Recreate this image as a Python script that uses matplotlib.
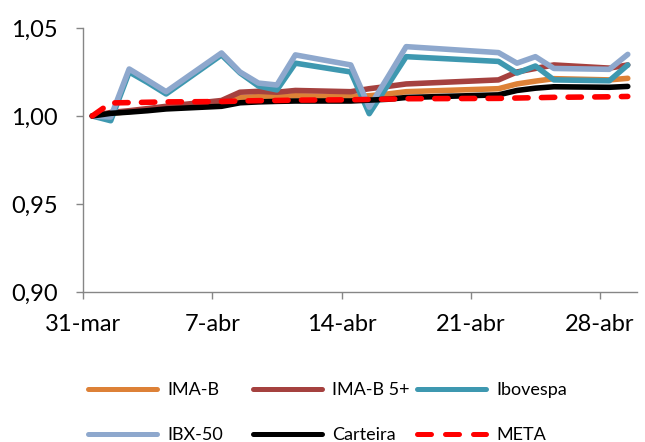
import matplotlib.pyplot as plt
import pandas as pd
from matplotlib.lines import Line2D

# Daily values, 31-mar to 29-abr (trading days only)
dates = ["2014-03-31", "2014-04-01", "2014-04-02", "2014-04-03", "2014-04-04",
         "2014-04-07", "2014-04-08", "2014-04-09", "2014-04-10", "2014-04-11",
         "2014-04-14", "2014-04-15", "2014-04-16", "2014-04-17", "2014-04-22",
         "2014-04-23", "2014-04-24", "2014-04-25", "2014-04-28", "2014-04-29"]

ima_b = [1.000, 1.0015, 1.0025, 1.0035, 1.0045, 1.0080, 1.0105, 1.0110, 1.0110, 1.0115,
         1.0110, 1.0115, 1.0125, 1.0138, 1.0155, 1.0182, 1.0198, 1.0212, 1.0205, 1.0214]
ima_b5 = [1.000, 1.0020, 1.0030, 1.0042, 1.0055, 1.0088, 1.0135, 1.0140, 1.0135, 1.0145,
          1.0138, 1.0155, 1.0168, 1.0182, 1.0205, 1.0250, 1.0270, 1.0290, 1.0272, 1.0290]
ibovespa = [1.000, 0.9973, 1.0250, 1.0190, 1.0125, 1.0347, 1.0245, 1.0170, 1.0148, 1.0300,
            1.0250, 1.0013, 1.0175, 1.0337, 1.0310, 1.0244, 1.0284, 1.0205, 1.0200, 1.0290]
ibx50 = [1.000, 0.9994, 1.0267, 1.0203, 1.0138, 1.0358, 1.0250, 1.0187, 1.0176, 1.0347,
         1.0290, 1.0050, 1.0220, 1.0394, 1.0360, 1.0300, 1.0337, 1.0270, 1.0265, 1.0350]
carteira = [1.000, 1.0015, 1.0022, 1.0030, 1.0040, 1.0055, 1.0075, 1.0080, 1.0083, 1.0085,
            1.0085, 1.0090, 1.0095, 1.0105, 1.0120, 1.0145, 1.0158, 1.0166, 1.0163, 1.0168]
meta = [1.000, 1.0074, 1.0076, 1.0078, 1.0080, 1.0082, 1.0085, 1.0087, 1.0088, 1.0090,
        1.0092, 1.0094, 1.0096, 1.0098, 1.0100, 1.0102, 1.0104, 1.0106, 1.0109, 1.0111]

tick_dates = ["2014-03-31", "2014-04-07", "2014-04-14", "2014-04-21", "2014-04-28"]
tick_labels = ["31-mar", "7-abr", "14-abr", "21-abr", "28-abr"]
y_ticks = [0.90, 0.95, 1.00, 1.05]

colors = {
    'IMA-B': '#DD8137',
    'IMA-B 5+': '#A5413F',
    'Ibovespa': '#3E98B0',
    'IBX-50': '#8EA8CD',
    'Carteira': '#000000',
    'META': '#FF0000',
}

plt.rcParams['font.family'] = ['Lato', 'DejaVu Sans']

x = pd.to_datetime(dates)
half_day = pd.Timedelta(hours=12)

fig = plt.figure(figsize=(6.45, 4.42), dpi=100)
ax = fig.add_axes([0.1287, 0.3394, 0.8589, 0.5973])

lw = 4.0
series = [("IMA-B", ima_b), ("IMA-B 5+", ima_b5), ("Ibovespa", ibovespa),
          ("IBX-50", ibx50), ("Carteira", carteira)]
for name, vals in series:
    ax.plot(x, vals, color=colors[name], lw=lw, solid_joinstyle='round',
            solid_capstyle='round', label=name)
ax.plot(x, meta, color=colors['META'], lw=lw, dashes=(2.4, 2.4),
        dash_capstyle='round', dash_joinstyle='round', label='META')

ax.set_xlim(x[0] - half_day, x[-1] + half_day)
ax.set_ylim(0.90, 1.05)
ax.set_xticks(pd.to_datetime(tick_dates) - half_day)
ax.set_xticklabels(tick_labels)
ax.set_yticks(y_ticks)
ax.set_yticklabels([f"{v:.2f}".replace('.', ',') for v in y_ticks])

for side in ('top', 'right'):
    ax.spines[side].set_visible(False)
for side in ('left', 'bottom'):
    ax.spines[side].set_color('#868686')
    ax.spines[side].set_linewidth(1.0)
ax.tick_params(axis='both', colors='#868686', labelcolor='black',
               labelsize=17, length=5, width=1.0, direction='out')
ax.tick_params(axis='y', pad=13)
ax.tick_params(axis='x', pad=11)

# legend: Excel-style fixed grid, one legend per column
handles = {}
for name in colors:
    if name == 'META':
        handles[name] = Line2D([], [], color=colors[name], lw=3.6,
                               dashes=(2.8, 2.8), dash_capstyle='round')
    else:
        handles[name] = Line2D([], [], color=colors[name], lw=3.6,
                               solid_capstyle='round')

columns = [["IMA-B", "IBX-50"], ["IMA-B 5+", "Carteira"], ["Ibovespa", "META"]]
col_x = [88, 253, 417]
for names, cx in zip(columns, col_x):
    leg = fig.legend([handles[n] for n in names], names,
                     loc='upper left', bbox_to_anchor=(cx / 645, 1 - 382 / 442),
                     frameon=False, fontsize=13, handlelength=3.8,
                     handletextpad=0.6, labelspacing=1.6, borderaxespad=0,
                     borderpad=0)

fig.savefig('out.png', dpi=100)
